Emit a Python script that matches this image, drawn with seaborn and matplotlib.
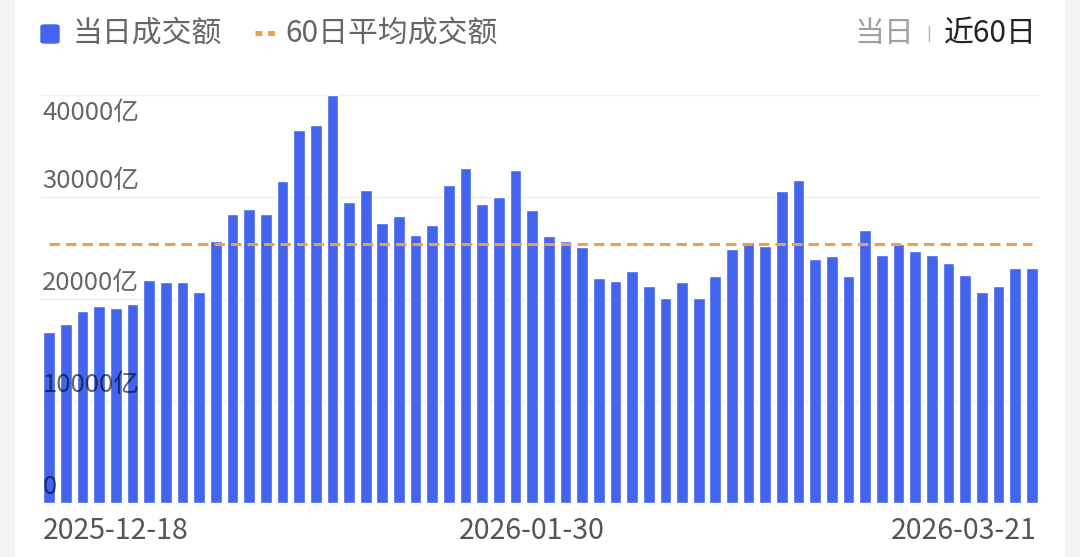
import numpy as np
import pandas as pd
import matplotlib.pyplot as plt
import seaborn as sns
from matplotlib.patches import FancyBboxPatch, Rectangle
from matplotlib.lines import Line2D

# 近60个交易日成交额（亿元）
amounts = [16800, 17550, 18900, 19300, 19100, 19500, 21900, 21650, 21700, 20750,
           25700, 28400, 28900, 28350, 31600, 36550, 37100, 40000, 29500, 30700,
           27450, 28150, 26350, 27250, 31250, 32900, 29300, 30050, 32700, 28750,
           26200, 25750, 25150, 22050, 21750, 22800, 21350, 20100, 21700, 20100,
           22250, 24900, 25650, 25200, 30600, 31700, 24000, 24200, 22300, 26800,
           24300, 25400, 24700, 24300, 23550, 22350, 20700, 21350, 23100, 23100]
days = list(range(len(amounts)))
date_labels = ["2025-12-18", "2026-01-30", "2026-03-21"]
date_idx = [0, 29, 59]
y_ticks = [0, 10000, 20000, 30000, 40000]
y_labels = ["0", "10000亿", "20000亿", "30000亿", "40000亿"]

BLUE = "#4264ee"
ORANGE = "#e6a24f"

sns.set_style("white")
plt.rcParams['font.family'] = ['Noto Sans CJK SC', 'DejaVu Sans']

W, H = 1080, 557
fig = plt.figure(figsize=(W / 100, H / 100), dpi=100)
fig.patch.set_facecolor("white")

# 两侧浅灰边
fig.patches.append(Rectangle((0, 0), 14 / W, 1, transform=fig.transFigure, color="#f4f4f4", zorder=0))
fig.patches.append(Rectangle((1065 / W, 0), 15 / W, 1, transform=fig.transFigure, color="#f4f4f4", zorder=0))

ax = fig.add_axes([41 / W, (H - 503.3) / H, 999 / W, 408 / H])
ax.set_facecolor("none")

df = pd.DataFrame({"day": days, "amount": amounts})
sns.barplot(data=df, x="day", y="amount", color=BLUE, saturation=1, width=0.7,
            ax=ax, zorder=2)

ax.set_xlim(-0.5, len(days) - 0.5)
ax.set_ylim(0, 40000)
for v in y_ticks:
    ax.axhline(v, color="#eeeeee" if v else "#e6ecf6", lw=1, zorder=0)

# 60日均线
avg = np.mean(amounts)
ax.axhline(avg, xmin=0.008, xmax=0.992, color=ORANGE, lw=2.2,
           ls=(0, (3.4, 2.0)), zorder=3)

ax.set_xticks([])
ax.set_yticks([])
ax.set_xlabel("")
ax.set_ylabel("")
sns.despine(ax=ax, left=True, bottom=True)

# y 轴标签（画在图内，半透明黑）
for v, lab in zip(y_ticks, y_labels):
    top = v == max(y_ticks)
    ax.annotate(lab, xy=(0, v), xycoords=("axes fraction", "data"),
                xytext=(1, -3.5 if top else 2.5), textcoords="offset points",
                ha="left", va="top" if top else "bottom",
                fontsize=18.5, color="black", alpha=0.6, zorder=5)

# x 轴日期
for i, lab in zip(date_idx, date_labels):
    if i == date_idx[0]:
        xy, xc, ha = (0, 0), ("axes fraction", "axes fraction"), "left"
    elif i == date_idx[-1]:
        xy, xc, ha = (1, 0), ("axes fraction", "axes fraction"), "right"
    else:
        xy, xc, ha = (i, 0), ("data", "axes fraction"), "center"
    ax.annotate(lab, xy=xy, xycoords=xc, xytext=(1 if ha == "left" else (-2 if ha == "right" else 0), -20),
                textcoords="offset points", ha=ha, va="center",
                fontsize=20.5, color="#555555", annotation_clip=False)

# 图例
fig.patches.append(FancyBboxPatch((41 / W, (H - 43) / H), 18 / W, 18 / H,
                                  boxstyle="round,pad=0,rounding_size=0.003",
                                  transform=fig.transFigure, color=BLUE))
fig.text(73 / W, (H - 33) / H, "当日成交额", fontsize=21.5, color="#666666",
         ha="left", va="center")
fig.lines.append(Line2D([255 / W, 276 / W], [(H - 33) / H] * 2, transform=fig.transFigure,
                        color=ORANGE, lw=3.5, ls=(0, (1.4, 1.2))))
fig.text(285 / W, (H - 33) / H, "60日平均成交额", fontsize=21.5, color="#666666",
         ha="left", va="center")

# 右上角切换
fig.text(855 / W, (H - 33) / H, "当日", fontsize=21.5, color="#a0a0a0",
         ha="left", va="center")
fig.lines.append(Line2D([929 / W] * 2, [(H - 41) / H, (H - 26) / H], transform=fig.transFigure,
                        color="#b0b0b0", lw=1))
fig.text(1037 / W, (H - 33) / H, "近60日", fontsize=21.5, color="#222222",
         ha="right", va="center")

fig.savefig("out.png", dpi=100)
